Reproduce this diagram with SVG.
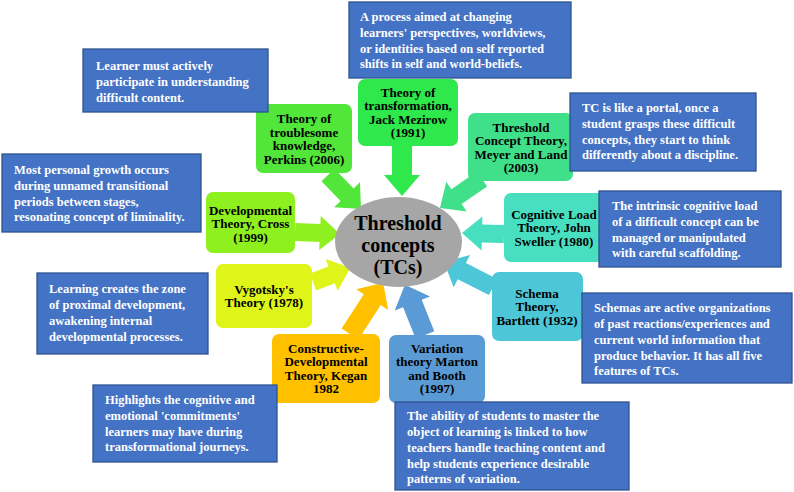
<svg xmlns="http://www.w3.org/2000/svg" width="794" height="492" viewBox="0 0 794 492">
<style>
.nt{font-family:"Liberation Serif","Times New Roman",serif;font-weight:bold;font-size:13px;fill:#000;text-anchor:middle}
.bt{font-family:"Liberation Serif","Times New Roman",serif;font-weight:bold;font-size:12.5px;fill:#fff}
.blue{fill:#4472c4;stroke:#2f528f;stroke-width:1.3}
.ct{font-family:"Liberation Serif","Times New Roman",serif;font-weight:bold;font-size:20px;fill:#000;text-anchor:middle}
</style>
<rect width="794" height="492" fill="#fff"/>
<g id="connectors">
<polygon fill="#52e53a" points="0,-9 27.4,-9 27.4,-18 47.4,0 27.4,18 27.4,9 0,9" transform="translate(328 175) rotate(45.9)"/>
<polygon fill="#2ee84c" points="0,-10 29,-10 29,-18 50,0 29,18 29,10 0,10" transform="translate(402 146) rotate(90)"/>
<polygon fill="#40e08a" points="0,-9 31,-9 31,-18 51,0 31,18 31,9 0,9" transform="translate(482 179) rotate(145.4)"/>
<polygon fill="#8ff020" points="0,-9 25,-9 25,-17 45,0 25,17 25,9 0,9" transform="translate(295 232) rotate(2.5)"/>
<polygon fill="#48dfc0" points="0,-9 22,-9 22,-17 42,0 22,17 22,9 0,9" transform="translate(504 234) rotate(181.4)"/>
<polygon fill="#dff51a" points="0,-9 20,-9 20,-17 40,0 20,17 20,9 0,9" transform="translate(313 282) rotate(-20.7)"/>
<polygon fill="#4dc6d8" points="0,-9 35,-9 35,-18 55,0 35,18 35,9 0,9" transform="translate(493 287) rotate(207)"/>
<polygon fill="#ffc000" points="0,-10 41,-10 41,-19 61,0 41,19 41,10 0,10" transform="translate(350 334) rotate(-57.1)"/>
<polygon fill="#5b9bd5" points="0,-10 34,-10 34,-19 54,0 34,19 34,10 0,10" transform="translate(425 335) rotate(-111.8)"/>
</g>
<g id="center">
<ellipse cx="398.5" cy="242" rx="63.5" ry="45" fill="#a6a6a6"/>
<text class="ct" x="398" y="230">Threshold</text>
<text class="ct" x="398" y="252">concepts</text>
<text class="ct" x="398" y="274">(TCs)</text>
</g>
<g id="n-troublesome">
<rect x="256" y="104" width="96" height="69" rx="7" fill="#52e53a"/>
<text class="nt" x="304" y="123">Theory of</text>
<text class="nt" x="304" y="136.5">troublesome</text>
<text class="nt" x="304" y="150">knowledge,</text>
<text class="nt" x="304" y="163.5">Perkins (2006)</text>
</g>
<g id="n-transformation">
<rect x="358" y="79" width="100" height="67" rx="7" fill="#2ee84c"/>
<text class="nt" x="408" y="96.5">Theory of</text>
<text class="nt" x="408" y="110">transformation,</text>
<text class="nt" x="408" y="123.5">Jack Mezirow</text>
<text class="nt" x="408" y="137">(1991)</text>
</g>
<g id="n-threshold">
<rect x="468" y="113" width="105" height="68" rx="7" fill="#40e08a"/>
<text class="nt" x="521" y="131.5">Threshold</text>
<text class="nt" x="521" y="145">Concept Theory,</text>
<text class="nt" x="521" y="158.5">Meyer and Land</text>
<text class="nt" x="521" y="172">(2003)</text>
</g>
<g id="n-cognitive">
<rect x="504" y="193" width="100" height="69" rx="7" fill="#48dfc0"/>
<text class="nt" x="554" y="218.5">Cognitive Load</text>
<text class="nt" x="554" y="232">Theory, John</text>
<text class="nt" x="554" y="245.5">Sweller (1980)</text>
</g>
<g id="n-schema">
<rect x="492" y="272" width="91" height="69" rx="7" fill="#4dc6d8"/>
<text class="nt" x="537" y="297.5">Schema</text>
<text class="nt" x="537" y="311">Theory,</text>
<text class="nt" x="537" y="324.5">Bartlett (1932)</text>
</g>
<g id="n-variation">
<rect x="389" y="335" width="96" height="68" rx="7" fill="#5b9bd5"/>
<text class="nt" x="437" y="352.5">Variation</text>
<text class="nt" x="437" y="366">theory Marton</text>
<text class="nt" x="437" y="379.5">and Booth</text>
<text class="nt" x="437" y="393">(1997)</text>
</g>
<g id="n-kegan">
<rect x="272" y="334" width="108" height="69" rx="7" fill="#ffc000"/>
<text class="nt" x="326" y="352.5">Constructive-</text>
<text class="nt" x="326" y="366">Developmental</text>
<text class="nt" x="326" y="379.5">Theory, Kegan</text>
<text class="nt" x="326" y="393">1982</text>
</g>
<g id="n-vygotsky">
<rect x="216" y="264" width="96" height="64" rx="7" fill="#dff51a"/>
<text class="nt" x="264" y="293.5">Vygotsky's</text>
<text class="nt" x="264" y="307">Theory (1978)</text>
</g>
<g id="n-developmental">
<rect x="206" y="192" width="89" height="61" rx="7" fill="#8ff020"/>
<text class="nt" x="250.5" y="214.5">Developmental</text>
<text class="nt" x="250.5" y="228">Theory, Cross</text>
<text class="nt" x="250.5" y="241.5">(1999)</text>
</g>
<g id="d-learner">
<rect class="blue" x="83" y="49" width="185" height="63"/>
<text class="bt" x="96" y="69.5">Learner must actively</text>
<text class="bt" x="96" y="85.5">participate in understanding</text>
<text class="bt" x="96" y="101.5">difficult content.</text>
</g>
<g id="d-process">
<rect class="blue" x="349" y="2" width="222" height="76"/>
<text class="bt" x="360" y="21">A process aimed at changing</text>
<text class="bt" x="360" y="37">learners' perspectives, worldviews,</text>
<text class="bt" x="360" y="53">or identities based on self reported</text>
<text class="bt" x="360" y="68">shifts in self and world-beliefs.</text>
</g>
<g id="d-portal">
<rect class="blue" x="570" y="93" width="186" height="78"/>
<text class="bt" x="582" y="112">TC is like a portal, once a</text>
<text class="bt" x="582" y="128">student grasps these difficult</text>
<text class="bt" x="582" y="143.5">concepts, they start to think</text>
<text class="bt" x="582" y="159">differently  about a discipline.</text>
</g>
<g id="d-intrinsic">
<rect class="blue" x="599" y="191" width="182" height="76"/>
<text class="bt" x="612" y="210">The intrinsic cognitive load</text>
<text class="bt" x="612" y="226">of a difficult concept can be</text>
<text class="bt" x="612" y="241.5">managed or manipulated</text>
<text class="bt" x="612" y="257">with careful scaffolding.</text>
</g>
<g id="d-schemas">
<rect class="blue" x="582" y="293" width="210" height="90"/>
<text class="bt" x="594" y="312">Schemas are active organizations</text>
<text class="bt" x="594" y="328">of past reactions/experiences  and</text>
<text class="bt" x="594" y="344">current world information  that</text>
<text class="bt" x="594" y="360">produce behavior. It has all five</text>
<text class="bt" x="594" y="375">features of TCs.</text>
</g>
<g id="d-ability">
<rect class="blue" x="395" y="402" width="234" height="88"/>
<text class="bt" x="407" y="420">The ability of students to master the</text>
<text class="bt" x="407" y="436">object of learning is linked to how</text>
<text class="bt" x="407" y="452">teachers handle teaching content and</text>
<text class="bt" x="407" y="467.5">help students experience desirable</text>
<text class="bt" x="407" y="483">patterns of variation.</text>
</g>
<g id="d-highlights">
<rect class="blue" x="93" y="385" width="184" height="77"/>
<text class="bt" x="105" y="404">Highlights  the cognitive  and</text>
<text class="bt" x="105" y="420">emotional 'commitments'</text>
<text class="bt" x="105" y="436">learners may have during</text>
<text class="bt" x="105" y="451">transformational  journeys.</text>
</g>
<g id="d-learning">
<rect class="blue" x="37" y="273" width="171" height="81"/>
<text class="bt" x="49" y="293">Learning creates the zone</text>
<text class="bt" x="49" y="309">of proximal  development,</text>
<text class="bt" x="49" y="325">awakening internal</text>
<text class="bt" x="49" y="341">developmental  processes.</text>
</g>
<g id="d-growth">
<rect class="blue" x="2" y="154" width="199" height="78"/>
<text class="bt" x="14" y="174">Most personal growth occurs</text>
<text class="bt" x="14" y="189.5">during unnamed transitional</text>
<text class="bt" x="14" y="205.5">periods between stages,</text>
<text class="bt" x="14" y="221">resonating  concept of liminality.</text>
</g>
</svg>
